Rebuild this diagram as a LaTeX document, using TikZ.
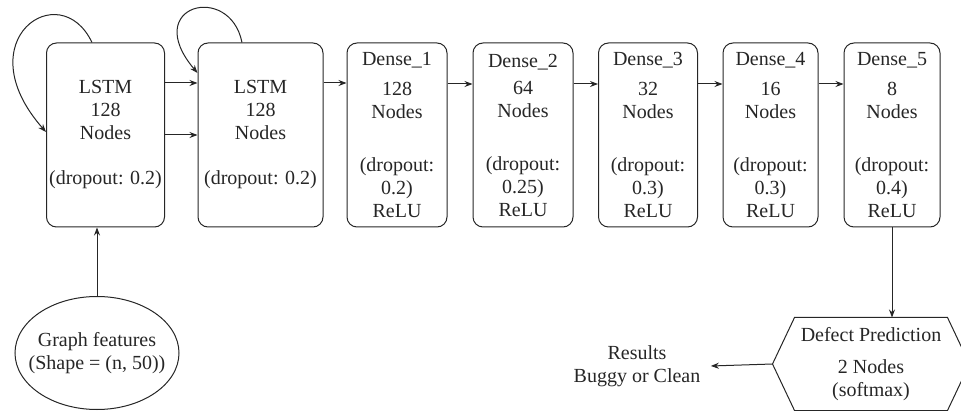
\documentclass[tikz,border=0pt]{standalone}
\usepackage{fontspec}
\setmainfont{Liberation Serif}
\usetikzlibrary{arrows.meta,positioning,shapes.geometric,calc}

\begin{document}
\begin{tikzpicture}[x=1pt,y=-1pt,
    line width=1pt, color=black!85,
    font=\fontsize{20}{23}\selectfont,
    >={Stealth[length=8pt,width=6pt]},
    layer/.style={draw, rounded corners=10pt, align=center, minimum height=184pt, minimum width=100pt, inner sep=2pt}]
    \useasboundingbox (0,0) rectangle (961,411);

    % Nodes
    \node[layer, minimum width=118pt] (lstmA) at (105.5,135) {LSTM\\128\\Nodes\\[22pt](dropout: 0.2)};
    \node[layer, minimum width=125pt] (lstmB) at (260.5,135) {LSTM\\128\\Nodes\\[22pt](dropout: 0.2)};
    \node[layer] (dense1) at (397,135) {Dense\_1\\[7pt]128\\Nodes\\[30pt](dropout:\\0.2)\\ReLU};
    \node[layer] (dense2) at (523,135) {Dense\_2\\[4pt]64\\Nodes\\[30pt](dropout:\\0.25)\\ReLU};
    \node[layer, minimum width=99pt] (dense3) at (648,135) {Dense\_3\\[7pt]32\\Nodes\\[30pt](dropout:\\0.3)\\ReLU};
    \node[layer, minimum width=95pt] (dense4) at (770.5,135) {Dense\_4\\[7pt]16\\Nodes\\[30pt](dropout:\\0.3)\\ReLU};
    \node[layer, minimum width=96pt] (dense5) at (892,135) {Dense\_5\\[7pt]8\\Nodes\\[30pt](dropout:\\0.4)\\ReLU};
    \node[draw, ellipse, minimum width=164pt, minimum height=113pt, inner xsep=-25pt, inner ysep=0pt, align=center] (feat) at (97,353) {Graph features\\(Shape = (n, 50))};
    \node[minimum width=196pt, minimum height=92pt, inner sep=0pt, align=center] (pred) at (871,364) {Defect Prediction\\[9pt]2 Nodes\\(softmax)};
    \node[align=center, inner xsep=10pt] (res) at (637,366) {Results\\Buggy or Clean};
    \draw (pred.west) -- ([xshift=22pt]pred.north west) -- ([xshift=-22pt]pred.north east) -- (pred.east)
        -- ([xshift=-22pt]pred.south east) -- ([xshift=22pt]pred.south west) -- cycle;

    % Arrows
    \draw[->] ([xshift=-13.5pt]lstmA.north) .. controls (60,-25) and (-35,40) .. ([yshift=3pt]lstmA.west);
    \draw[->] ([xshift=-18.5pt]lstmB.north) .. controls (230,-18) and (140,5) .. ([yshift=62pt]lstmB.west);
    \draw[->] ([yshift=52pt]lstmA.east) -- ([yshift=52pt]lstmB.west);
    \draw[->] (lstmA.east) -- (lstmB.west);
    \draw[->] ([yshift=52pt]lstmB.east) -- ([yshift=52pt]dense1.west);
    \draw[->] ([yshift=51pt]dense1.east) -- ([yshift=51pt]dense2.west);
    \draw[->] ([yshift=51pt]dense2.east) -- ([yshift=51pt]dense3.west);
    \draw[->] ([yshift=51pt]dense3.east) -- ([yshift=51pt]dense4.west);
    \draw[->] ([yshift=51pt]dense4.east) -- ([yshift=51pt]dense5.west);
    \draw[->] (feat.north) -- (feat.north |- lstmA.south);
    \draw[->] (dense5.south) -- (dense5.south |- pred.north);
    \draw[->] (pred.west) -- (res.east);
\end{tikzpicture}
\end{document}
